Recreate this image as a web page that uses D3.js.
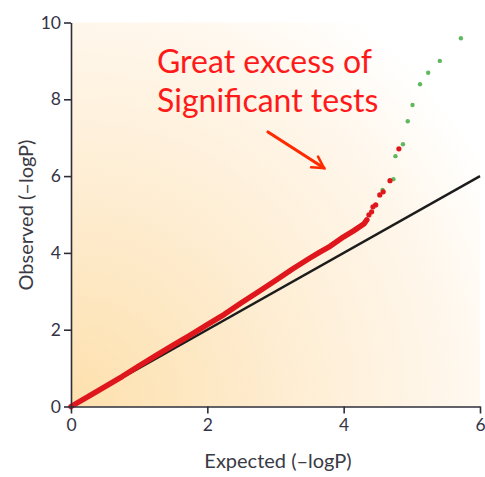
<!DOCTYPE html>
<html><head><meta charset="utf-8">
<script src="https://cdn.jsdelivr.net/npm/d3@7/dist/d3.min.js"></script>
<style>
html,body{margin:0;padding:0;background:#fff;}
svg{display:block;}
</style></head>
<body>
<svg id="chart" width="485" height="477"></svg>
<script>
// ---- data ----
const xTicks = [0, 2, 4, 6];
const yTicks = [0, 2, 4, 6, 8, 10];
const xTitle = "Expected (\u2013logP)";
const yTitle = "Observed (\u2013logP)";
const annotationLines = ["Great excess of", "Significant tests"];
// main red band (expected, observed)
const bandExpected = [0,0.25,0.5,0.75,1,1.25,1.5,1.75,2,2.25,2.5,2.75,3,3.25,3.5,3.65,3.8,4,4.15,4.3,4.34];
const bandObserved = [0,0.26,0.52,0.78,1.06,1.33,1.6,1.86,2.13,2.4,2.7,2.99,3.28,3.58,3.86,4.02,4.17,4.42,4.58,4.76,4.86];
// red outlying points
const redExpected = [4.37,4.41,4.43,4.47,4.53,4.58,4.68,4.81];
const redObserved = [4.99,5.07,5.20,5.25,5.51,5.59,5.88,6.71];
// green points
const greenExpected = [4.57,4.73,4.76,4.87,4.94,5.01,5.12,5.24,5.41,5.72];
const greenObserved = [5.64,5.92,6.52,6.83,7.43,7.85,8.39,8.69,9.00,9.59];
// null line
const diagExpected = [0, 6];
const diagObserved = [0, 6];

// ---- chart ----
const svg = d3.select("#chart");
const x = d3.scaleLinear().domain([0, 6]).range([71, 480]);
const y = d3.scaleLinear().domain([0, 10]).range([406.5, 22.5]);

const defs = svg.append("defs");
const grad = defs.append("radialGradient").attr("id", "bg")
  .attr("gradientUnits", "userSpaceOnUse")
  .attr("cx", x(0)).attr("cy", y(0)).attr("r", 480);
grad.append("stop").attr("offset", "0").attr("stop-color", "#fde0ad");
grad.append("stop").attr("offset", "0.45").attr("stop-color", "#feedd2");
grad.append("stop").attr("offset", "0.8").attr("stop-color", "#fff7ec");
grad.append("stop").attr("offset", "1").attr("stop-color", "#ffffff");

svg.append("rect")
  .attr("x", x(0)).attr("y", y(10))
  .attr("width", x(6) - x(0)).attr("height", y(0) - y(10))
  .attr("fill", "url(#bg)");

const font = "Lato, 'Noto Sans', sans-serif";
const axisColor = "#2e2e38";

// annotation
const ann = svg.append("text")
  .attr("font-family", font).attr("font-size", 32).attr("font-weight", 400)
  .attr("fill", "#ff1a1a");
annotationLines.forEach((t, i) => {
  ann.append("tspan").attr("x", 157).attr("y", 73 + i * 39).text(t);
});
// arrow
defs.append("marker").attr("id", "arrow")
  .attr("viewBox", "0 0 10 10").attr("refX", 8).attr("refY", 5)
  .attr("markerWidth", 5).attr("markerHeight", 5).attr("orient", "auto")
  .attr("markerUnits", "strokeWidth")
  .append("path").attr("d", "M1,1 L8,5 L1,9").attr("fill", "none")
  .attr("stroke", "#ff2a00").attr("stroke-width", 1.6).attr("stroke-linecap", "round");
svg.append("line")
  .attr("x1", 268).attr("y1", 132).attr("x2", 324).attr("y2", 168)
  .attr("stroke", "#ff2a00").attr("stroke-width", 3.2).attr("stroke-linecap", "round")
  .attr("marker-end", "url(#arrow)");

// diagonal
const line = d3.line().x(d => x(d[0])).y(d => y(d[1]));
svg.append("path")
  .datum(diagExpected.map((e, i) => [e, diagObserved[i]]))
  .attr("d", line).attr("fill", "none")
  .attr("stroke", "#1c1c1c").attr("stroke-width", 2.4);

// red band
svg.append("path")
  .datum(bandExpected.map((e, i) => [e, bandObserved[i]]))
  .attr("d", line).attr("fill", "none")
  .attr("stroke", "#e0161d").attr("stroke-width", 5.5)
  .attr("stroke-linecap", "round").attr("stroke-linejoin", "round");

// green points
svg.append("g").selectAll("circle")
  .data(greenExpected.map((e, i) => [e, greenObserved[i]]))
  .join("circle")
  .attr("cx", d => x(d[0])).attr("cy", d => y(d[1])).attr("r", 2.2)
  .attr("fill", "#5fb85f");

// red points
svg.append("g").selectAll("circle")
  .data(redExpected.map((e, i) => [e, redObserved[i]]))
  .join("circle")
  .attr("cx", d => x(d[0])).attr("cy", d => y(d[1])).attr("r", 2.6)
  .attr("fill", "#e0161d");

// axes
const xAxis = svg.append("g").attr("transform", `translate(0,${y(0)})`)
  .call(d3.axisBottom(x).tickValues(xTicks).tickFormat(d3.format("d"))
    .tickSize(7).tickPadding(5).tickSizeOuter(0));
const yAxis = svg.append("g").attr("transform", `translate(${x(0)},0)`)
  .call(d3.axisLeft(y).tickValues(yTicks).tickFormat(d3.format("d"))
    .tickSize(7).tickPadding(3).tickSizeOuter(0));
[xAxis, yAxis].forEach(g => {
  g.select(".domain").attr("stroke", axisColor).attr("stroke-width", 1.6);
  g.selectAll(".tick line").attr("stroke", axisColor).attr("stroke-width", 1.6);
  g.selectAll(".tick text").attr("fill", "#343447")
    .attr("font-family", font).attr("font-size", 17.5);
});

svg.append("text")
  .attr("x", 278).attr("y", 468).attr("text-anchor", "middle")
  .attr("font-family", font).attr("font-size", 20).attr("fill", "#3a3a45")
  .text(xTitle);
svg.append("text")
  .attr("transform", `translate(33,215) rotate(-90)`)
  .attr("text-anchor", "middle")
  .attr("font-family", font).attr("font-size", 20).attr("fill", "#3a3a45")
  .text(yTitle);
</script>
</body></html>
